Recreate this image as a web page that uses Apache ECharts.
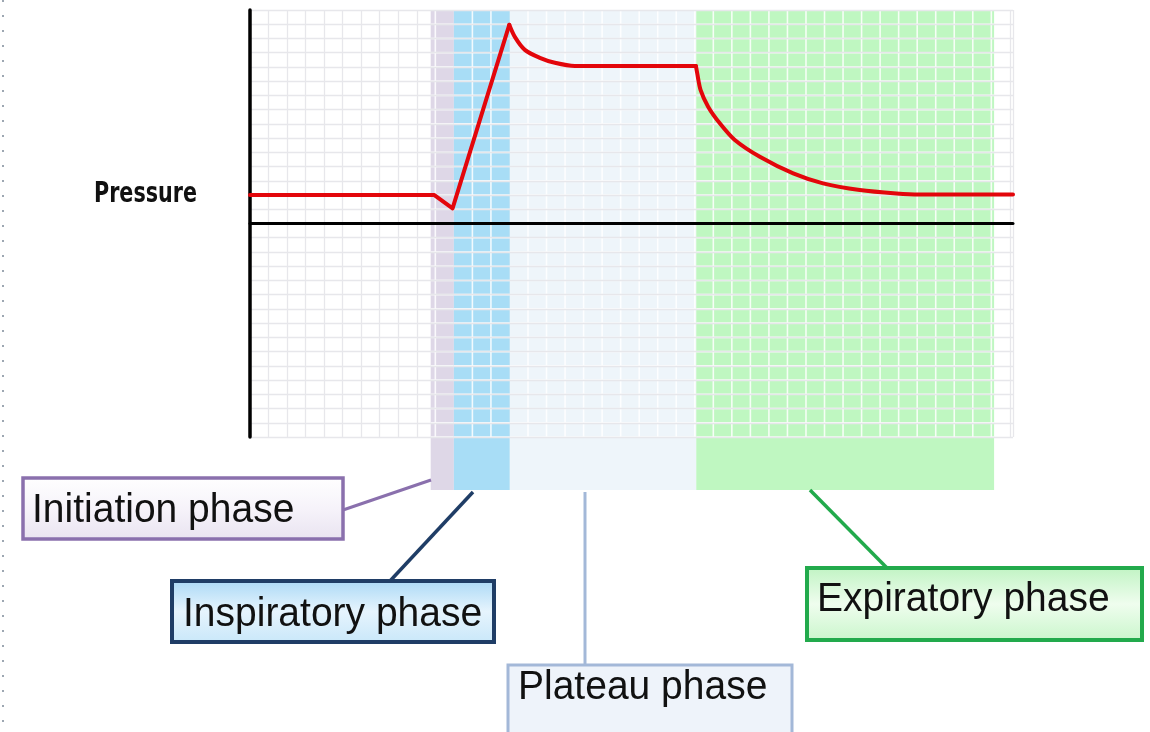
<!DOCTYPE html>
<html>
<head>
<meta charset="utf-8">
<script src="https://cdn.jsdelivr.net/npm/echarts@6/dist/echarts.min.js"></script>
<style>
html,body{margin:0;padding:0;background:#fff;}
#chart{width:1150px;height:732px;}
</style>
</head>
<body>
<div id="chart"></div>
<script>
// ---- data ----
// inspiration: baseline -> trigger dip -> peak (straight segments)
const riseX = [0, 9.95, 10.93, 13.99];
const riseP = [2, 2, 1.06, 13.96];
// peak decay to plateau
const plateauX = [13.99, 14.29, 14.83, 15.64, 16.45, 17.53, 24.06];
const plateauP = [13.96, 13.11, 12.2, 11.64, 11.29, 11.07, 11.07];
// expiration back to baseline
const expX = [24.06, 24.13, 24.31, 24.72, 25.35, 26.16, 27.51, 29.31, 30.92, 32.9, 34.88, 36.14, 41.17];
const expP = [11.07, 10.56, 9.39, 8.21, 7.04, 5.87, 4.69, 3.52, 2.82, 2.35, 2.11, 2.04, 2.04];

const phaseNames = ['Initiation phase', 'Inspiratory phase', 'Plateau phase', 'Expiratory phase'];
const phaseStart = [9.75, 11, 14.02, 24.08];
const phaseEnd = [11, 14.02, 24.08, 40.15];
const phaseColors = ['#ded7e7', '#a8ddf6', '#eef5fa', '#bff7c1'];
const yLabel = 'Pressure';
const xMin = 0, xMax = 41.17, yMin = -15, yMax = 15;

const bandData = phaseStart.map((s, i) => [s, phaseEnd[i], i]);
const pairs = (xs, ys) => xs.map((x, i) => [x, ys[i]]);

const chart = echarts.init(document.getElementById('chart'), null, {renderer: 'canvas'});

function bandRender(params, api) {
  const s = api.value(0), e = api.value(1), idx = api.value(2);
  const p0 = api.coord([s, yMax]);
  const p1 = api.coord([e, yMin]);
  const children = [{
    type: 'rect',
    shape: {x: p0[0], y: p0[1], width: p1[0] - p0[0], height: p1[1] - p0[1]},
    style: {fill: phaseColors[idx]}
  }];
  for (let k = Math.ceil(s); k <= Math.floor(e); k++) {
    if (k <= s + 0.05 || k >= e - 0.05) continue;
    const x = api.coord([k, 0])[0];
    children.push({type: 'line', shape: {x1: x, y1: p0[1], x2: x, y2: p1[1]}, style: {stroke: '#ffffff', lineWidth: 1.6, opacity: 0.85}});
  }
  for (let j = yMin; j <= yMax; j++) {
    const y = api.coord([0, j])[1];
    children.push({type: 'line', shape: {x1: p0[0], y1: y, x2: p1[0], y2: y}, style: {stroke: '#ffffff', lineWidth: 1.6, opacity: 0.85}});
  }
  return {type: 'group', children};
}

function stripRender(params, api) {
  const s = api.value(0), e = api.value(1), idx = api.value(2);
  const p0 = api.coord([s, 1]);
  const p1 = api.coord([e, 0]);
  return {
    type: 'rect',
    shape: {x: p0[0], y: p0[1], width: p1[0] - p0[0], height: p1[1] - p0[1]},
    style: {fill: phaseColors[idx]}
  };
}

const txtFont = '"Liberation Sans", Arial, sans-serif';
function box(x, y, w, h, stroke, fill, lw) {
  return {type: 'rect', z: 20, shape: {x, y, width: w, height: h}, style: {fill, stroke, lineWidth: lw}};
}
function conn(x1, y1, x2, y2, stroke, lw) {
  return {type: 'line', z: 19, shape: {x1, y1, x2, y2}, style: {stroke, lineWidth: lw}};
}
function label(text, x, y) {
  return {type: 'text', z: 21, x: x, y: y, scaleY: 1.06, style: {text, x: 0, y: 0, fill: '#111', fontSize: 39, fontFamily: txtFont, verticalAlign: 'middle', align: 'left'}};
}
function lg(stops) {
  return {type: 'linear', x: 0, y: 0, x2: 0, y2: 1, colorStops: stops.map((c, i) => ({offset: i / (stops.length - 1), color: c}))};
}

const redLine = {color: '#e3060b', width: 4, join: 'round', cap: 'round'};

const option = {
  backgroundColor: '#ffffff',
  animation: false,
  grid: [
    {left: 250, top: 10, width: 763, height: 427, containLabel: false},
    {left: 250, top: 437, width: 763, height: 53, containLabel: false}
  ],
  xAxis: [
    {type: 'value', gridIndex: 0, min: xMin, max: xMax, interval: 1, position: 'top', z: 0,
      axisLine: {show: false, onZero: false}, axisTick: {show: false}, axisLabel: {show: false},
      splitLine: {show: true, lineStyle: {color: '#e7e7eb', width: 1.3}}},
    {type: 'value', gridIndex: 0, min: xMin, max: xMax, interval: 1, position: 'bottom', z: 4,
      axisLine: {show: true, onZero: true, onZeroAxisIndex: 0, lineStyle: {color: '#000', width: 3}},
      axisTick: {show: false}, axisLabel: {show: false}, splitLine: {show: false}},
    {type: 'value', gridIndex: 1, min: xMin, max: xMax, show: false}
  ],
  yAxis: [
    {type: 'value', gridIndex: 0, min: yMin, max: yMax, interval: 1, z: 4,
      axisLine: {show: true, onZero: false, lineStyle: {color: '#000', width: 3.5}},
      axisTick: {show: false}, axisLabel: {show: false},
      splitLine: {show: true, lineStyle: {color: '#e7e7eb', width: 1.3}}},
    {type: 'value', gridIndex: 1, min: 0, max: 1, show: false}
  ],
  series: [
    {type: 'custom', name: 'phases', xAxisIndex: 0, yAxisIndex: 0, z: 1, silent: true,
      renderItem: bandRender, data: bandData},
    {type: 'custom', name: 'phase strip', xAxisIndex: 2, yAxisIndex: 1, z: 1, silent: true,
      renderItem: stripRender, data: bandData},
    {type: 'line', name: yLabel, xAxisIndex: 0, yAxisIndex: 0, z: 6, data: pairs(riseX, riseP),
      showSymbol: false, symbol: 'none', smooth: false, clip: true, lineStyle: redLine},
    {type: 'line', name: yLabel, xAxisIndex: 0, yAxisIndex: 0, z: 6, data: pairs(plateauX, plateauP),
      showSymbol: false, symbol: 'none', smooth: 0.3, clip: true, lineStyle: redLine},
    {type: 'line', name: yLabel, xAxisIndex: 0, yAxisIndex: 0, z: 6, data: pairs(expX, expP),
      showSymbol: false, symbol: 'none', smooth: 0.3, clip: true, lineStyle: redLine}
  ],
  graphic: [
    {type: 'line', z: 1, shape: {x1: 3, y1: 0, x2: 3, y2: 732}, style: {stroke: '#7d8b99', lineWidth: 1.5, lineDash: [2, 13]}},
    {type: 'text', z: 21, x: 94, y: 195, scaleY: 1.25,
      style: {text: yLabel, x: 0, y: 0, fill: '#111', fontSize: 23, fontWeight: 'bold',
        fontFamily: '"DejaVu Sans Condensed", "DejaVu Sans", sans-serif', verticalAlign: 'middle', align: 'left'}},
    conn(343, 510, 431, 480, '#8a70ad', 3),
    conn(390, 581, 473, 492, '#1f3d66', 3.5),
    conn(585, 492, 585, 665, '#a3b8d8', 3),
    conn(810, 490, 887, 568, '#22aa4c', 3.5),
    box(23, 478, 320, 61, '#8a70ad', lg(['#ffffff', '#f6f3fa', '#e9e3f0']), 3.5),
    box(172, 581, 322, 61, '#1f3d66', lg(['#a9d8f6', '#e6f4fd', '#c8e7f9']), 4),
    box(508, 665, 284, 80, '#a3b8d8', '#eef3fa', 3),
    box(807, 568, 335, 72, '#22aa4c', lg(['#bff3c2', '#effdee', '#c9f6cb']), 4),
    label(phaseNames[0], 32, 511),
    label(phaseNames[1], 183, 615),
    label(phaseNames[2], 518, 688),
    label(phaseNames[3], 817, 600)
  ]
};
chart.setOption(option);
</script>
</body>
</html>
